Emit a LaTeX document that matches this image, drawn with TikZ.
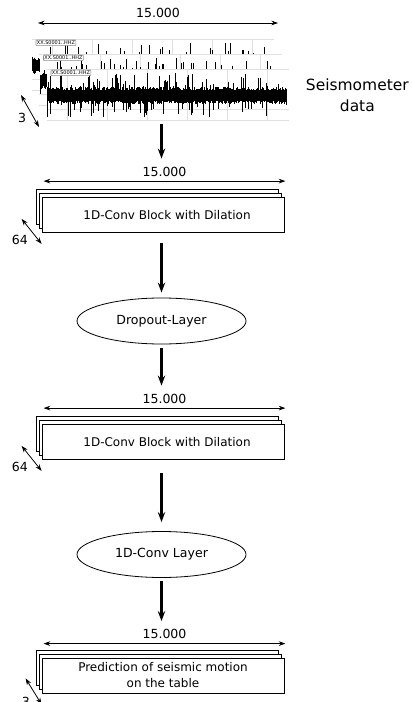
\documentclass[tikz,border=0pt]{standalone}
\usepackage{fontspec}
\setmainfont{DejaVu Sans}
\usetikzlibrary{positioning,calc,shapes.geometric,shadows,arrows.meta}
\tikzset{
  layer box/.style={draw, fill=white, line width=0.6pt, minimum width=181.5pt, minimum height=26.25pt,
    inner sep=0pt, align=center, font=\fontsize{9}{12}\selectfont,
    double copy shadow={shadow xshift=-2.25pt, shadow yshift=3pt, draw=black, fill=white, line width=0.6pt}},
  layer ellipse/.style={draw, ellipse, line width=0.6pt, minimum width=126.75pt, minimum height=34.5pt, inner sep=0pt},
  flow arrow/.style={-{Stealth[length=7.5pt,width=5.5pt]}, line width=2.2pt},
  dim arrow/.style={{Stealth[length=5pt,width=3.5pt]}-{Stealth[length=5pt,width=3.5pt]}, line width=0.6pt},
  plot frame/.style={fill=white, minimum width=181.5pt, minimum height=38.25pt, inner sep=0pt},
  plot grid/.style={draw=black!12, line width=0.4pt},
  trace/.style={line width=0.6pt},
  trace tag/.style={draw=black!45, fill=white, rounded corners=0.5pt, inner sep=0.7pt, font=\fontsize{3.7}{4}\selectfont},
}

\begin{document}
\begin{tikzpicture}[x=0.75pt, y=-0.75pt, font=\fontsize{9.4}{12}\selectfont]
        \useasboundingbox (0,0) rectangle (411,702);
        \pgfmathsetseed{11}
        % Seismometer traces
        \coordinate (d0l) at (38,23);
        \coordinate (d0r) at (278,23);
        \draw[dim arrow] (d0l) -- node[above] (w0) {15.000} (d0r);
        \foreach \k/\cx/\cy in {1/153/65.5, 2/160.5/80.5, 3/168/95.5} {
            \node[plot frame] (p\k) at (\cx,\cy) {};
            \foreach \g in {21,61,...,221}
                \draw[plot grid] ($(p\k.north west)+(\g,0)$) -- ($(p\k.south west)+(\g,0)$);
            \foreach \h in {0,40,51}
                \draw[plot grid] ($(p\k.north west)+(0,\h)$) -- ($(p\k.north east)+(0,\h)$);
            \foreach \i in {1,...,240} {
                \pgfmathsetmacro\up{rnd<0.8 ? 5+4*rnd : 9+14*rnd}
                \pgfmathsetmacro\dn{rnd<0.8 ? 5+4*rnd : 9+13*rnd}
                \draw[trace] ($(p\k.west)+(\i,-\up)$) -- ($(p\k.west)+(\i,\dn)$);
            }
            \node[trace tag, anchor=north west] (t\k) at ($(p\k.north west)+(4,0)$) {XX.S0001..HHZ};
        }
        \node[font=\fontsize{11.6}{15.75}\selectfont, align=center, right=9pt of p3] (sdata) {Seismometer\\data};
        \coordinate (c0a) at (21,95);
        \coordinate (c0b) at (39,127);
        \draw[dim arrow] (c0a) -- (c0b);
        \node (n0) at (22,118) {3};
        % Layers
        \node[layer box] (b1) at (163,215) {\hspace*{6pt}1D-Conv Block with Dilation};
        \node[layer ellipse] (e1) at (161.5,321) {Dropout-Layer};
        \node[layer box] (b2) at (163,442) {\hspace*{6pt}1D-Conv Block with Dilation};
        \node[layer ellipse] (e2) at (161.5,554.5) {1D-Conv Layer};
        \node[layer box] (b3) at (163,675.5) {Prediction of seismic motion\\on the table};
        % Sizes
        \coordinate (d1l) at ($(b1.north west)+(2,-16)$);
        \coordinate (d1r) at ($(b1.north east)+(1,-16)$);
        \draw[dim arrow] (d1l) -- node[above] (w1) {15.000} (d1r);
        \coordinate (d2l) at ($(b2.north west)+(2,-16)$);
        \coordinate (d2r) at ($(b2.north east)+(1,-16)$);
        \draw[dim arrow] (d2l) -- node[above] (w2) {15.000} (d2r);
        \coordinate (d3l) at ($(b3.north west)+(2,-14)$);
        \coordinate (d3r) at ($(b3.north east)+(1,-14)$);
        \draw[dim arrow] (d3l) -- node[above] (w3) {15.000} (d3r);
        \coordinate (c1a) at ($(b1.south west)+(-20,-14)$);
        \coordinate (c1b) at ($(b1.south west)+(0,11)$);
        \draw[dim arrow] (c1a) -- (c1b);
        \node[anchor=east] (n1) at ($(b1.south west)+(-9,7)$) {64};
        \coordinate (c2a) at ($(b2.south west)+(-20,-14)$);
        \coordinate (c2b) at ($(b2.south west)+(0,11)$);
        \draw[dim arrow] (c2a) -- (c2b);
        \node[anchor=east] (n2) at ($(b2.south west)+(-9,7)$) {64};
        \coordinate (c3a) at ($(b3.south west)+(-16,-15)$);
        \coordinate (c3b) at ($(b3.south west)+(0,11)$);
        \draw[dim arrow] (c3a) -- (c3b);
        \node[anchor=east] (n3) at ($(b3.south west)+(-7,9)$) {3};
        % Paths
        \draw[flow arrow, shorten <=2pt, shorten >=2.5pt] (p3.south -| e1) -- (w1.north -| e1);
        \draw[flow arrow, shorten <=7.5pt, shorten >=3.75pt] (b1.south -| e1) -- (e1.north);
        \draw[flow arrow, shorten <=3pt, shorten >=2.5pt] (e1.south) -- (w2.north -| e1);
        \draw[flow arrow, shorten <=9.75pt, shorten >=6.75pt] (b2.south -| e2) -- (e2.north);
        \draw[flow arrow, shorten <=2.25pt, shorten >=2.5pt] (e2.south) -- (w3.north -| e2);
\end{tikzpicture}
\end{document}
